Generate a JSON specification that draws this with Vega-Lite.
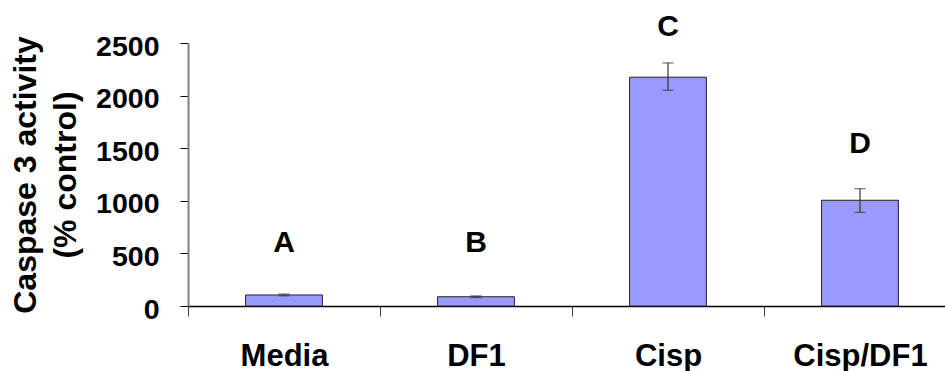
{
  "$schema": "https://vega.github.io/schema/vega-lite/v6.json",
  "width": 757,
  "height": 263,
  "autosize": {"type": "none"},
  "padding": {"left": 188, "top": 43, "right": 0, "bottom": 65},
  "background": "white",
  "config": {
    "view": {"stroke": null},
    "font": "Liberation Sans"
  },
  "data": {
    "values": [
      {"group": "Media", "activity": 105, "lo": 97, "hi": 113, "letter": "A", "letter_y": 513},
      {"group": "DF1", "activity": 88, "lo": 80, "hi": 96, "letter": "B", "letter_y": 513},
      {"group": "Cisp", "activity": 2175, "lo": 2050, "hi": 2310, "letter": "C", "letter_y": 2565},
      {"group": "Cisp/DF1", "activity": 1005, "lo": 890, "hi": 1115, "letter": "D", "letter_y": 1454}
    ]
  },
  "encoding": {
    "x": {
      "field": "group",
      "type": "nominal",
      "sort": null,
      "scale": {"range": [0, 768], "paddingInner": 0, "paddingOuter": 0},
      "axis": {
        "title": null,
        "labelAngle": 0,
        "labelFont": "Liberation Sans",
        "labelFontSize": 31,
        "labelFontWeight": "bold",
        "labelColor": "black",
        "labelPadding": 25,
        "tickBand": "extent",
        "tickSize": 10,
        "tickColor": "#404040",
        "tickWidth": 1,
        "domainColor": "black",
        "domainWidth": 1.5
      }
    }
  },
  "layer": [
    {
      "mark": {"type": "bar", "fill": "#9999FF", "stroke": "#222222", "strokeWidth": 1, "width": {"band": 0.4}},
      "encoding": {
        "y": {
          "field": "activity",
          "type": "quantitative",
          "scale": {"domain": [0, 2500], "nice": false, "zero": true},
          "axis": {
            "values": [0, 500, 1000, 1500, 2000, 2500],
            "format": "d",
            "grid": false,
            "title": ["Caspase 3 activity", "(% control)"],
            "titleFont": "Liberation Sans",
            "titleFontSize": 32,
            "titleFontWeight": "bold",
            "titleColor": "black",
            "titleLineHeight": 40,
            "titlePadding": 13,
            "labelFont": "Liberation Sans",
            "labelFontSize": 28.5,
            "labelFontWeight": "bold",
            "labelColor": "black",
            "labelPadding": 21,
            "labelOffset": 3,
            "tickSize": 8,
            "tickColor": "black",
            "tickWidth": 1,
            "domainColor": "#808080",
            "domainWidth": 2
          }
        }
      }
    },
    {
      "mark": {"type": "rule", "color": "#333333", "strokeWidth": 1.2},
      "encoding": {
        "y": {"field": "lo", "type": "quantitative"},
        "y2": {"field": "hi"}
      }
    },
    {
      "mark": {"type": "tick", "color": "#333333", "size": 11, "thickness": 1.2, "orient": "horizontal"},
      "encoding": {"y": {"field": "lo", "type": "quantitative"}}
    },
    {
      "mark": {"type": "tick", "color": "#333333", "size": 11, "thickness": 1.2, "orient": "horizontal"},
      "encoding": {"y": {"field": "hi", "type": "quantitative"}}
    },
    {
      "mark": {
        "type": "text",
        "font": "Liberation Sans",
        "fontSize": 30,
        "fontWeight": "bold",
        "color": "black",
        "baseline": "alphabetic",
        "align": "center"
      },
      "encoding": {
        "y": {"field": "letter_y", "type": "quantitative"},
        "text": {"field": "letter"}
      }
    }
  ]
}
